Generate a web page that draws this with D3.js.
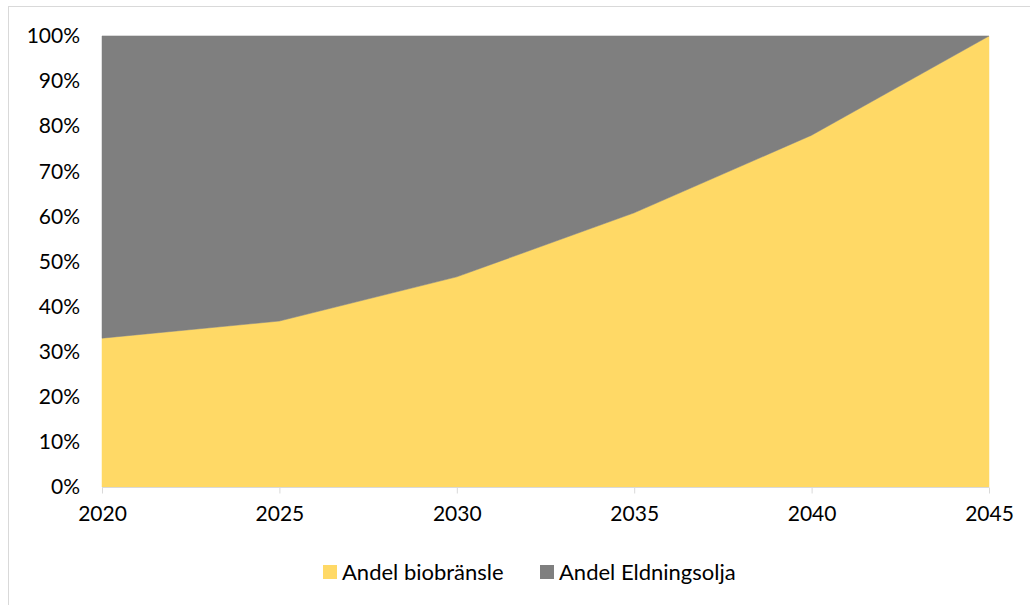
<!DOCTYPE html>
<html>
<head>
<meta charset="utf-8">
<script src="https://cdn.jsdelivr.net/npm/d3@7"></script>
<style>
  html, body { margin: 0; padding: 0; background: #fff; }
  svg { display: block; font-family: Lato, "Open Sans", sans-serif; }
</style>
</head>
<body>
<svg id="chart" width="1030" height="605"></svg>
<script>
// Years on the x axis
const years = [2020, 2025, 2030, 2035, 2040, 2045];
// Share of biofuel (fraction of total)
const bioShare = [0.330, 0.368, 0.466, 0.608, 0.780, 1.000];
// Share of heating oil is the remainder
const oilShare = bioShare.map(v => 1 - v);
const seriesNames = ["Andel biobränsle", "Andel Eldningsolja"];
const seriesColors = ["#FFD966", "#7F7F7F"];
const yTicks = [0, 0.1, 0.2, 0.3, 0.4, 0.5, 0.6, 0.7, 0.8, 0.9, 1.0];

const FONT = "Lato, 'Open Sans', sans-serif";
const FS = 21;

const svg = d3.select("#chart");
const W = 1030, H = 605;
const m = { left: 102, right: 1030 - 989, top: 36, bottom: 605 - 487 };

// chart frame
svg.append("rect")
  .attr("x", 8.5).attr("y", 6.5)
  .attr("width", W + 10).attr("height", H + 10)
  .attr("fill", "#fff").attr("stroke", "#D9D9D9").attr("stroke-width", 1);

const x = d3.scaleLinear().domain([years[0], years[years.length - 1]]).range([m.left, W - m.right]);
const y = d3.scaleLinear().domain([0, 1]).range([H - m.bottom, m.top]);

const rows = years.map((yr, i) => ({ year: yr, bio: bioShare[i], oil: oilShare[i] }));
const stack = d3.stack().keys(["bio", "oil"]);
const layers = stack(rows);

const area = d3.area()
  .x(d => x(d.data.year))
  .y0(d => y(d[0]))
  .y1(d => y(d[1]));

svg.append("g").selectAll("path")
  .data(layers)
  .join("path")
  .attr("d", area)
  .attr("fill", (d, i) => seriesColors[i])
  .attr("stroke", (d, i) => seriesColors[i])
  .attr("stroke-width", 0.5);

// top gridline at 100%
svg.append("line")
  .attr("x1", m.left).attr("x2", W - m.right)
  .attr("y1", y(1) - 0.5).attr("y2", y(1) - 0.5)
  .attr("stroke", "#D9D9D9").attr("stroke-width", 1);

// y axis labels
const yAxis = d3.axisLeft(y).tickValues(yTicks).tickFormat(d3.format(".0%")).tickSize(0).tickPadding(22);
const gy = svg.append("g").attr("transform", `translate(${m.left},0)`).call(yAxis);
gy.select(".domain").remove();
gy.selectAll("text").attr("font-size", FS).attr("fill", "#000").attr("font-family", FONT);

// x axis
const xAxis = d3.axisBottom(x).tickValues(years).tickFormat(d3.format("d")).tickSize(6).tickPadding(17);
const gx = svg.append("g").attr("transform", `translate(0,${y(0) + 0.5})`).call(xAxis);
gx.select(".domain").attr("stroke", "#D9D9D9").attr("d", `M${m.left},0H${W - m.right}`);
gx.selectAll(".tick line").attr("stroke", "#D9D9D9");
gx.selectAll("text").attr("font-size", FS).attr("fill", "#000").attr("font-family", FONT)
  .attr("dy", "0.5em");

// legend
const legend = svg.append("g");
const legendItems = [{ x: 323 }, { x: 540 }];
seriesNames.forEach((name, i) => {
  const g = legend.append("g").attr("transform", `translate(${legendItems[i].x},565)`);
  g.append("rect").attr("x", 0).attr("y", 0).attr("width", 14).attr("height", 14)
    .attr("fill", seriesColors[i]);
  g.append("text").attr("x", 19).attr("y", 7).attr("dy", "0.36em")
    .attr("font-size", 22).attr("fill", "#000").attr("font-family", FONT).text(name);
});
</script>
</body>
</html>
